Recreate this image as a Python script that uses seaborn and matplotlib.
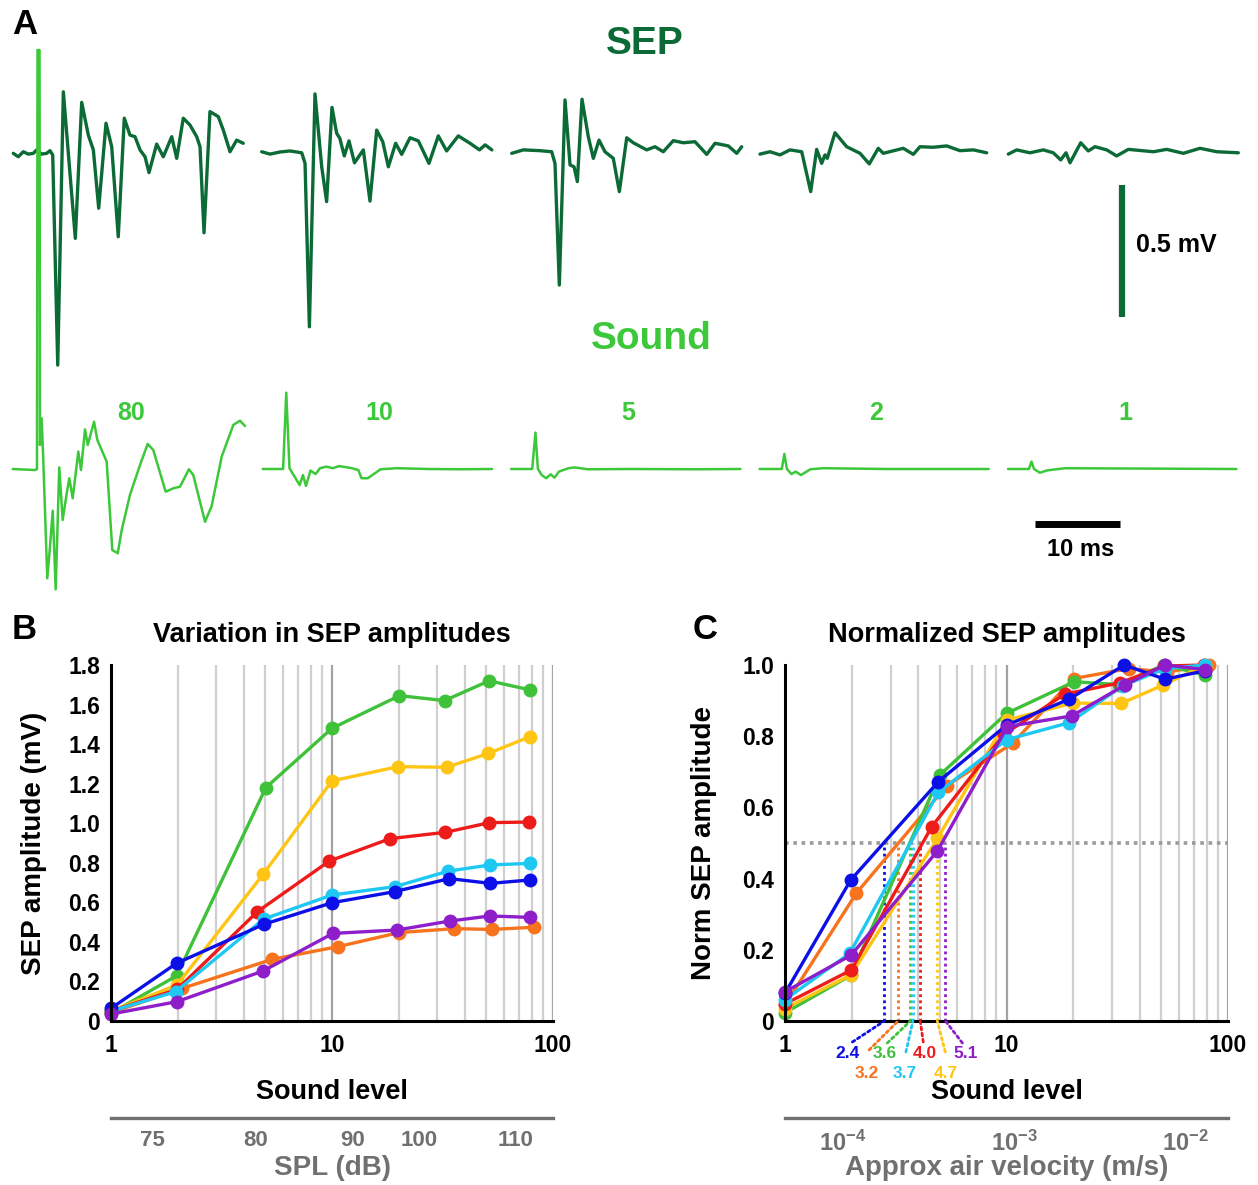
import numpy as np
import pandas as pd
import matplotlib
matplotlib.use('Agg')
import matplotlib.pyplot as plt
import matplotlib.ticker as mticker
import seaborn as sns

sns.set_theme(style='white')
plt.rcParams['font.family'] = ['Liberation Sans', 'DejaVu Sans']
plt.rcParams['font.weight'] = 'bold'
plt.rcParams['axes.labelweight'] = 'bold'
plt.rcParams['axes.titleweight'] = 'bold'
plt.rcParams['text.color'] = 'black'
plt.rcParams['axes.labelcolor'] = 'black'
plt.rcParams['mathtext.fontset'] = 'custom'
plt.rcParams['mathtext.rm'] = 'Liberation Sans:bold'
plt.rcParams['mathtext.it'] = 'Liberation Sans:bold'
plt.rcParams['mathtext.bf'] = 'Liberation Sans:bold'
plt.rcParams['mathtext.default'] = 'rm'

# ---------------- Panel A: example traces (time in ms, amplitude in mV) ----------------
sound_levels = [80, 10, 5, 2, 1]

sep80_t = [0.15, 0.74, 1.33, 1.92, 2.51, 2.9, 3.49, 4.08, 4.47, 4.79, 5.38, 6.04, 6.82, 7.45, 8.2, 8.98,
           9.57, 10.2, 11.06, 11.73, 12.5, 13.21, 13.88, 14.47, 15.06, 15.65, 16.12, 17.02, 17.8, 18.79,
           19.38, 20.15, 20.94, 21.73, 22.12, 22.59, 23.29, 24.27, 24.86, 25.65, 26.43, 27.21]
sep80_v = [-0.005, -0.018, 0.001, -0.008, -0.005, 0.008, -0.008, -0.005, 0.005, -0.011, -0.807, 0.228,
           -0.081, -0.327, 0.188, 0.064, 0.008, -0.213, 0.109, 0.02, -0.321, 0.128, 0.064, 0.058, 0.008,
           -0.018, -0.078, 0.030, -0.018, 0.058, -0.024, 0.128, 0.102, 0.058, 0.02, -0.306, 0.153, 0.134,
           0.083, 0.001, 0.045, 0.033]

sep10_t = [0.14, 1.12, 2.29, 3.47, 4.85, 5.24, 5.75, 6.41, 7.2, 7.78, 8.41, 8.96, 9.33, 9.86, 10.41,
           11.06, 12.1, 12.88, 13.67, 14.38, 15.04, 15.9, 16.61, 17.59, 18.57, 19.82, 20.92, 21.9, 23.27,
           24.65, 25.76, 26.43, 27.22]
sep10_v = [0.001, -0.008, 0, 0.004, -0.003, -0.043, -0.662, 0.22, -0.056, -0.188, 0.169, 0.071, 0.052,
           -0.015, 0.042, -0.041, 0.008, -0.186, 0.083, 0.039, -0.056, 0.033, -0.009, 0.054, 0.042,
           -0.043, 0.061, 0.004, 0.061, 0.033, 0.008, 0.027, 0.008]

sep5_t = [0.32, 1.68, 3.65, 5.02, 5.41, 5.92, 6.59, 7.18, 7.65, 8.04, 8.59, 9.33, 9.92, 10.59, 11.29,
          12.27, 12.98, 13.85, 14.62, 16.2, 17.18, 18.15, 19.33, 20.51, 21.88, 23.26, 24.24, 25.8,
          26.79, 27.38]
sep5_v = [-0.005, 0.008, 0.005, 0.001, -0.043, -0.504, 0.197, -0.049, -0.056, -0.112, 0.2, 0.058, -0.024,
          0.045, 0.001, -0.024, -0.15, 0.054, 0.035, 0.008, 0.02, 0.001, 0.043, 0.035, 0.039, -0.009,
          0.033, 0.023, -0.005, 0.02]

sep2_t = [0.29, 1.47, 2.65, 3.82, 5.2, 6.26, 6.96, 7.55, 7.94, 8.21, 9.12, 10.49, 12.06, 13.15, 14.21,
          14.8, 17.15, 18.33, 19.12, 20.68, 22.26, 23.82, 25.39, 26.96]
sep2_v = [-0.008, 0.001, -0.011, 0.008, 0.001, -0.15, 0.01, -0.043, -0.011, -0.024, 0.073, 0.02, -0.005,
          -0.045, 0.014, -0.005, 0.014, -0.009, 0.02, 0.018, 0.023, 0.005, 0.008, -0.003]

sep1_t = [0.27, 1.26, 2.82, 4.39, 5.56, 6.44, 7.06, 7.53, 8.79, 9.68, 10.47, 11.85, 13.02, 14.39, 17.33,
          18.91, 20.86, 22.82, 24.79, 27.33]
sep1_v = [-0.008, 0.008, -0.003, 0.008, -0.003, -0.03, -0.003, -0.041, 0.035, 0.004, 0.02, 0.008, -0.015,
          0.01, 0.001, 0.01, -0.005, 0.014, 0.001, -0.003]

snd80_t = [0.08, 2.71, 2.94, 3.0, 3.24, 3.29, 3.49, 3.68, 4.15, 4.47, 4.79, 5.14, 5.56, 5.96, 6.44, 6.74,
           7.14, 7.8, 8.12, 8.59, 8.91, 9.65, 10.04, 11.14, 11.8, 12.44, 12.91, 13.88, 15.06, 15.96, 16.62,
           18.08, 18.98, 19.76, 20.82, 21.33, 22.71, 23.49, 24.67, 26.04, 26.82, 27.41]
snd80_v = [0, -0.004, 0, 1.587, 1.587, 0.091, 0.192, 0.034, -0.414, -0.294, -0.158, -0.456, 0.006, -0.193,
           -0.092, -0.035, -0.111, 0.066, -0.004, 0.15, 0.091, 0.179, 0.11, 0.028, -0.307, -0.319, -0.231,
           -0.098, 0.015, 0.095, 0.072, -0.086, -0.073, -0.067, -0.001, -0.023, -0.2, -0.14, 0.047, 0.167,
           0.183, 0.163]

snd10_t = [0.26, 2.66, 3.03, 3.41, 4.01, 4.61, 4.99, 5.35, 5.88, 6.48, 7.0, 7.75, 8.5, 9.26, 10.76,
           11.51, 11.88, 12.62, 14.13, 16.0, 19.74, 23.5, 27.24]
snd10_v = [0, 0, 0.289, 0.003, -0.029, -0.061, -0.023, -0.064, -0.006, -0.019, 0.003, 0.009, 0.003, 0.011,
           0.003, -0.004, -0.035, -0.035, -0.001, 0.003, 0, -0.001, 0]

snd5_t = [0.25, 2.73, 3.11, 3.4, 3.85, 4.38, 4.9, 5.35, 5.87, 7.0, 7.74, 9.25, 14.49, 21.9, 27.22]
snd5_v = [0, 0, 0.138, 0, -0.023, -0.035, -0.02, -0.033, -0.01, 0.003, 0.006, -0.001, 0, -0.001, 0]

snd2_t = [0.25, 2.86, 3.16, 3.46, 3.99, 4.5, 5.12, 6.22, 7.72, 15.2, 27.2]
snd2_v = [0, 0, 0.057, 0, -0.019, -0.01, -0.023, -0.001, 0.003, 0, 0]

snd1_t = [0.24, 2.7, 3.0, 3.3, 3.98, 4.9, 6.95, 27.1]
snd1_v = [0, 0, 0.028, 0, -0.014, -0.005, 0.003, 0]

sep_traces = [(sep80_t, sep80_v), (sep10_t, sep10_v), (sep5_t, sep5_v), (sep2_t, sep2_v), (sep1_t, sep1_v)]
snd_traces = [(snd80_t, snd80_v), (snd10_t, snd10_v), (snd5_t, snd5_v), (snd2_t, snd2_v), (snd1_t, snd1_v)]

# ---------------- Panels B and C: per-preparation data ----------------
series = ['orange', 'green', 'yellow', 'red', 'cyan', 'blue', 'purple']

level_green = [1, 1.98, 5.02, 10.0, 20.2, 32.3, 51.4, 78.8]
level_yellow = [1, 1.99, 4.88, 10.0, 19.9, 33.0, 51.0, 78.8]
level_red = [1, 1.99, 4.6, 9.73, 18.3, 32.6, 51.6, 78.2]
level_cyan = [1, 1.96, 4.92, 10.0, 19.2, 33.6, 52.0, 78.8]
level_blue = [1, 1.98, 4.92, 10.0, 19.2, 34.0, 52.0, 78.8]
level_orange = [1, 2.1, 5.37, 10.65, 20.1, 35.7, 53.0, 82.0]
level_purple = [1, 1.99, 4.88, 10.1, 19.7, 34.3, 52.0, 78.8]

amp_green = [0.04, 0.228, 1.18, 1.48, 1.645, 1.62, 1.72, 1.674]
amp_yellow = [0.05, 0.182, 0.742, 1.214, 1.286, 1.283, 1.353, 1.438]
amp_red = [0.05, 0.16, 0.553, 0.809, 0.922, 0.954, 1.003, 1.006]
amp_cyan = [0.05, 0.148, 0.516, 0.637, 0.679, 0.758, 0.789, 0.797]
amp_blue = [0.064, 0.292, 0.489, 0.598, 0.654, 0.72, 0.696, 0.713]
amp_orange = [0.042, 0.165, 0.312, 0.376, 0.447, 0.467, 0.463, 0.474]
amp_purple = [0.035, 0.098, 0.253, 0.443, 0.46, 0.506, 0.531, 0.524]

norm_green = [0.023, 0.128, 0.692, 0.864, 0.953, 0.945, 1.0, 0.972]
norm_yellow = [0.035, 0.13, 0.513, 0.845, 0.893, 0.892, 0.944, 1.0]
norm_red = [0.048, 0.143, 0.546, 0.805, 0.918, 0.95, 0.997, 1.0]
norm_cyan = [0.06, 0.19, 0.642, 0.79, 0.838, 0.942, 0.99, 1.0]
norm_blue = [0.078, 0.396, 0.672, 0.831, 0.904, 1.0, 0.96, 0.984]
norm_orange = [0.045, 0.359, 0.661, 0.78, 0.962, 0.99, 0.98, 1.0]
norm_purple = [0.082, 0.185, 0.478, 0.827, 0.857, 0.944, 1.0, 0.987]

# sound level at which each normalized curve crosses 0.5, and the fitted threshold labels
thresh_series = ['blue', 'orange', 'green', 'cyan', 'red', 'yellow', 'purple']
cross_level = [2.81, 3.24, 3.68, 3.78, 4.08, 4.87, 5.3]
thresh_value = [2.4, 3.2, 3.6, 3.7, 4.0, 4.7, 5.1]

# secondary axes
spl_db = [75, 80, 90, 100, 110]
spl_at_level = [1.545, 4.52, 12.45, 24.9, 67.5]
velocity_ticks = [1e-4, 1e-3, 1e-2]
velocity_range = [10 ** -4.335, 10 ** -1.753]

colors = {'green': '#3fc13a', 'yellow': '#ffc514', 'red': '#ee1b1b', 'cyan': '#1fc8f3',
          'blue': '#0c10e6', 'orange': '#f7731d', 'purple': '#8e1dca'}
levels = {'green': level_green, 'yellow': level_yellow, 'red': level_red, 'cyan': level_cyan,
          'blue': level_blue, 'orange': level_orange, 'purple': level_purple}
amps = {'green': amp_green, 'yellow': amp_yellow, 'red': amp_red, 'cyan': amp_cyan,
        'blue': amp_blue, 'orange': amp_orange, 'purple': amp_purple}
norms = {'green': norm_green, 'yellow': norm_yellow, 'red': norm_red, 'cyan': norm_cyan,
         'blue': norm_blue, 'orange': norm_orange, 'purple': norm_purple}

rows = []
for s in series:
    for lv, a, nm in zip(levels[s], amps[s], norms[s]):
        rows.append({'series': s, 'level': lv, 'amp': a, 'norm': nm})
df = pd.DataFrame(rows)

SEP_GREEN = '#0b6a35'
SND_GREEN = '#3cc83a'
GREY = '#707070'
W, H = 1258, 1185

fig = plt.figure(figsize=(W / 100, H / 100), dpi=100)

# ---------------- Panel A ----------------
px_per_ms = 8.5
px_per_mv = 264
axA = fig.add_axes([0, 585 / H, 1, 600 / H])
axA.set_xlim(0, W / px_per_ms)
axA.set_ylim(-448 / px_per_mv, 152 / px_per_mv)
axA.axis('off')
seg_x0 = 12 / px_per_ms
seg_step = 248.5 / px_per_ms
snd_base = -317 / px_per_mv

for i, (t, v) in enumerate(sep_traces):
    x0 = seg_x0 + i * seg_step
    axA.plot(np.asarray(t) + x0, v, color=SEP_GREEN, lw=2.4,
             solid_joinstyle='round', solid_capstyle='round')
for i, (t, v) in enumerate(snd_traces):
    x0 = seg_x0 + i * seg_step
    axA.plot(np.asarray(t) + x0, np.asarray(v) + snd_base, color=SND_GREEN, lw=1.8,
             solid_joinstyle='round')
    axA.text(x0 + 14, -0.99, str(sound_levels[i]), color=SND_GREEN, fontsize=18,
             ha='center', va='center')

axA.text(75.9, 0.41, 'SEP', color=SEP_GREEN, fontsize=28, ha='center', va='center')
axA.text(76.6, -0.71, 'Sound', color=SND_GREEN, fontsize=28, ha='center', va='center')

# scale bars: 0.5 mV and 10 ms
axA.plot([132, 132], [-0.125, -0.125 - 0.5], color=SEP_GREEN, lw=4.5, solid_capstyle='butt')
axA.text(133.6, -0.352, '0.5 mV', fontsize=18, ha='left', va='center', color='black')
axA.plot([121.8, 121.8 + 10], [-1.409, -1.409], color='black', lw=5, solid_capstyle='butt')
axA.text(127.1, -1.505, '10 ms', fontsize=17, ha='center', va='center', color='black')


def style_panel(ax, ymax, ylabel, title, ylabelpad):
    ax.set_xscale('log')
    ax.set_xlim(1, 100)
    ax.set_ylim(0, ymax)
    for sp in ['top', 'right']:
        ax.spines[sp].set_visible(False)
    for sp in ['left', 'bottom']:
        ax.spines[sp].set_color('black')
        ax.spines[sp].set_linewidth(2.2)
    ax.set_xticks([1, 10, 100])
    ax.set_xticklabels(['1', '10', '100'])
    ax.xaxis.set_minor_locator(mticker.LogLocator(base=10, subs=np.arange(2, 10)))
    ax.xaxis.set_minor_formatter(mticker.NullFormatter())
    yt = np.round(np.arange(0, ymax + 0.01, 0.2), 1)
    ax.set_yticks(yt)
    ax.set_yticklabels(['0' if v == 0 else f'{v:.1f}' for v in yt])
    ax.tick_params(axis='both', which='major', direction='out', length=5, width=1.6,
                   labelsize=16.5, colors='black', pad=3)
    ax.tick_params(axis='x', which='major', pad=4)
    ax.tick_params(axis='both', which='minor', length=0)
    ax.grid(True, which='minor', axis='x', color='#cfcfcf', lw=1.6)
    ax.grid(True, which='major', axis='x', color='#a3a3a3', lw=1.6)
    ax.grid(False, axis='y')
    ax.set_axisbelow(True)
    ax.set_xlabel('Sound level', fontsize=19.5, color='black')
    ax.xaxis.set_label_coords(0.5, -0.163)
    ax.xaxis.label.set_va('top')
    ax.set_ylabel(ylabel, fontsize=20, labelpad=ylabelpad, color='black')
    ax.set_title(title, fontsize=19.5, pad=16.5, color='black')


def lower_axis(x0px, x1px, log_lim, ticks, labels, xlabel, fs):
    ax2 = fig.add_axes([x0px / W, (H - 1118) / H, (x1px - x0px) / W, 1e-4])
    ax2.set_xscale('log')
    ax2.set_xlim(*log_lim)
    ax2.set_facecolor('none')
    ax2.set_yticks([])
    for sp in ['top', 'right', 'left']:
        ax2.spines[sp].set_visible(False)
    ax2.spines['bottom'].set_color(GREY)
    ax2.spines['bottom'].set_linewidth(2.4)
    ax2.set_xticks(ticks)
    ax2.set_xticklabels(labels)
    ax2.xaxis.set_minor_locator(mticker.NullLocator())
    ax2.tick_params(axis='x', which='major', direction='out', length=5, width=1.6,
                    color=GREY, labelcolor=GREY, labelsize=fs, pad=4)
    fig.text((x0px + x1px) / 2 / W, 1 - 1168 / H, xlabel, fontsize=20, color=GREY,
             ha='center', va='center')
    return ax2


# ---------------- Panel B ----------------
axB = fig.add_axes([111 / W, (H - 1021) / H, 442 / W, 356 / H])
axB.set_xscale('log')
sns.lineplot(data=df, x='level', y='amp', hue='series', hue_order=series, palette=colors,
             marker='o', markersize=10, markeredgewidth=0, linewidth=2.4,
             estimator=None, sort=False, legend=False, ax=axB)
for ln in axB.lines:
    ln.set_clip_on(False)
    ln.set_solid_joinstyle('round')
style_panel(axB, 1.8, 'SEP amplitude (mV)', 'Variation in SEP amplitudes', 15)
lower_axis(111, 553, (1, 100), spl_at_level, [str(v) for v in spl_db], 'SPL (dB)', 16)

# ---------------- Panel C ----------------
axC = fig.add_axes([785 / W, (H - 1021) / H, 443 / W, 356 / H])
axC.set_xscale('log')
axC.axhline(0.5, color='#9a9a9a', lw=2.6, ls=(0, (1, 1.3)), zorder=1.2)
for s, cx in zip(thresh_series, cross_level):
    axC.plot([cx, cx], [0, 0.5], color=colors[s], lw=2.0, ls=(0, (1, 1.2)), zorder=1.3)
sns.lineplot(data=df, x='level', y='norm', hue='series', hue_order=series, palette=colors,
             marker='o', markersize=10, markeredgewidth=0, linewidth=2.4,
             estimator=None, sort=False, legend=False, ax=axC)
for ln in axC.lines:
    ln.set_clip_on(False)
style_panel(axC, 1.0, 'Norm SEP amplitude', 'Normalized SEP amplitudes', 18)

# leader lines from each crossing to its threshold label (offsets in pixels)
leader_end_px = [(-32, -21), (-29, -29), (-23, -22), (-7, -31), (3, -21), (8, -31), (17, -22)]
label_px = [(-37, -32), (-31, -52), (-26, -32), (-8, -52), (5, -32), (9, -52), (20, -32)]
for s, cx, val, (ex, ey), (lx, ly) in zip(thresh_series, cross_level, thresh_value,
                                           leader_end_px, label_px):
    axC.annotate('', xy=(cx, 0), xycoords='data', xytext=(ex * 0.72, ey * 0.72),
                 textcoords='offset points', annotation_clip=False,
                 arrowprops=dict(arrowstyle='-', color=colors[s], lw=2.0,
                                 linestyle=(0, (1, 1.2)), shrinkA=0, shrinkB=0))
    axC.annotate(f'{val:.1f}', xy=(cx, 0), xycoords='data', xytext=(lx * 0.72, ly * 0.72),
                 textcoords='offset points', annotation_clip=False, color=colors[s],
                 fontsize=12.5, ha='center', va='center')

lower_axis(785, 1228, velocity_range, velocity_ticks,
           [r'$10^{-4}$', r'$10^{-3}$', r'$10^{-2}$'], 'Approx air velocity (m/s)', 17)

# panel letters
fig.text(12 / W, 1 - 24 / H, 'A', fontsize=25, ha='left', va='center')
fig.text(12 / W, 1 - 630 / H, 'B', fontsize=25, ha='left', va='center')
fig.text(693 / W, 1 - 630 / H, 'C', fontsize=25, ha='left', va='center')

fig.savefig('out.png', dpi=100, facecolor='white')
